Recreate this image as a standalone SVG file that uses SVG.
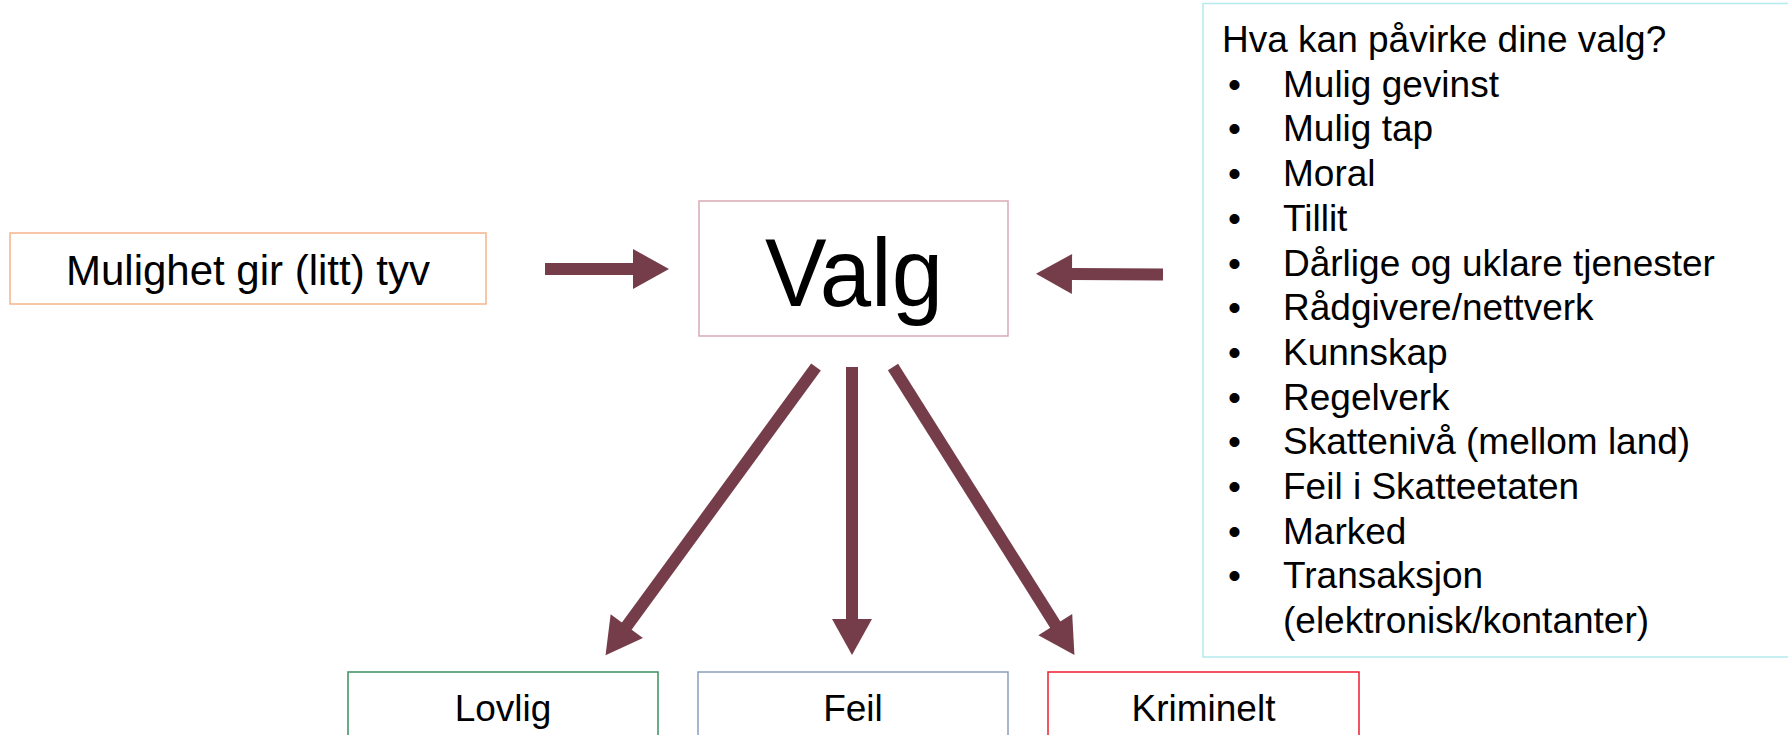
<svg xmlns="http://www.w3.org/2000/svg" width="1788" height="735" viewBox="0 0 1788 735">
<style>
text{font-family:"Liberation Sans",Arial,sans-serif;fill:#000}
.box{fill:#fff;stroke-width:1.5}
.lbl{font-size:37px;text-anchor:middle}
.li{font-size:37px}
.conn{stroke:#753D4A;stroke-width:12;fill:none;marker-end:url(#ah)}
</style>
<defs>
<marker id="ah" markerUnits="userSpaceOnUse" markerWidth="38" markerHeight="40" viewBox="0 0 36 40" refX="1" refY="20" orient="auto" overflow="visible">
<path d="M0,0 L36,20 L0,40 Z" fill="#753D4A"/>
</marker>
</defs>
<rect width="1788" height="735" fill="#fff"/>
<g id="node-mulighet">
<rect class="box" x="10" y="233" width="476" height="71" stroke="#F5B48C"/>
<text x="248" y="285" style="font-size:42px" text-anchor="middle">Mulighet gir (litt) tyv</text>
</g>
<g id="node-valg">
<rect class="box" x="699" y="201" width="309" height="135" stroke="#D8AAB4"/>
<text x="854" y="306" style="font-size:96px" text-anchor="middle" textLength="178" lengthAdjust="spacingAndGlyphs">Valg</text>
</g>
<g id="node-faktorer">
<rect class="box" x="1203" y="3.5" width="600" height="653.5" stroke="#B4EAEE"/>
<text class="li" x="1222" y="52">Hva kan påvirke dine valg?</text>
<g class="li">
<text class="li" x="1228" y="96.7">•</text><text class="li" x="1283" y="96.7">Mulig gevinst</text>
<text class="li" x="1228" y="141.4">•</text><text class="li" x="1283" y="141.4">Mulig tap</text>
<text class="li" x="1228" y="186.1">•</text><text class="li" x="1283" y="186.1">Moral</text>
<text class="li" x="1228" y="230.8">•</text><text class="li" x="1283" y="230.8">Tillit</text>
<text class="li" x="1228" y="275.5">•</text><text class="li" x="1283" y="275.5">Dårlige og uklare tjenester</text>
<text class="li" x="1228" y="320.2">•</text><text class="li" x="1283" y="320.2">Rådgivere/nettverk</text>
<text class="li" x="1228" y="364.9">•</text><text class="li" x="1283" y="364.9">Kunnskap</text>
<text class="li" x="1228" y="409.6">•</text><text class="li" x="1283" y="409.6">Regelverk</text>
<text class="li" x="1228" y="454.3">•</text><text class="li" x="1283" y="454.3">Skattenivå (mellom land)</text>
<text class="li" x="1228" y="499">•</text><text class="li" x="1283" y="499">Feil i Skatteetaten</text>
<text class="li" x="1228" y="543.7">•</text><text class="li" x="1283" y="543.7">Marked</text>
<text class="li" x="1228" y="588.4">•</text><text class="li" x="1283" y="588.4">Transaksjon</text>
<text class="li" x="1283" y="633.1">(elektronisk/kontanter)</text>
</g>
</g>
<g id="node-lovlig">
<rect class="box" x="348" y="672" width="310" height="90" stroke="#3A8F5C"/>
<text class="lbl" x="503" y="721">Lovlig</text>
</g>
<g id="node-feil">
<rect class="box" x="698" y="672" width="310" height="90" stroke="#8A9DBE"/>
<text class="lbl" x="853" y="721">Feil</text>
</g>
<g id="node-kriminelt">
<rect class="box" x="1048" y="672" width="311" height="90" stroke="#EE1C2E"/>
<text class="lbl" x="1203.5" y="721">Kriminelt</text>
</g>
<g id="connectors">
<line class="conn" x1="545" y1="269" x2="634" y2="269"/>
<line class="conn" x1="1163" y1="274.5" x2="1071" y2="274"/>
<line class="conn" x1="852" y1="367" x2="852" y2="620"/>
<line class="conn" x1="816" y1="367" x2="626.2" y2="626.9"/>
<line class="conn" x1="893" y1="367" x2="1055.8" y2="625.5"/>
</g>
</svg>
